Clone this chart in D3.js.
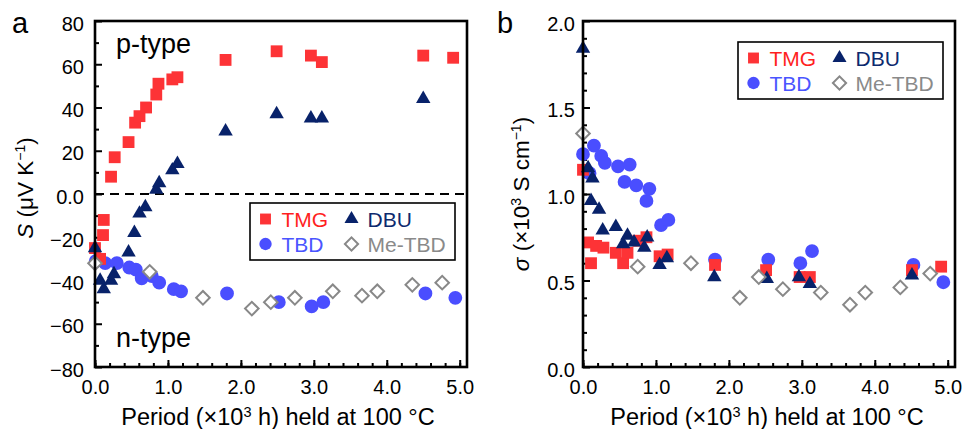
<!DOCTYPE html>
<html>
<head>
<meta charset="utf-8">
<script src="https://cdn.jsdelivr.net/npm/d3@7"></script>
<style>
  body { margin: 0; background: #fff; }
  svg { display: block; font-family: "Liberation Sans", Arial, Helvetica, sans-serif; }
</style>
</head>
<body>
<svg id="fig" width="964" height="429"></svg>
<script>
// ---- Panel a: Seebeck coefficient S (µV K^-1) vs. period held at 100 °C (×10^3 h)
const tmgTimeS = [0.00, 0.07, 0.11, 0.12, 0.22, 0.27, 0.46, 0.55, 0.61, 0.70, 0.84, 0.87, 1.06, 1.13, 1.79, 2.49, 2.96, 3.11, 4.50, 4.91];
const tmgS     = [-25, -30, -19, -12, 8, 17, 24, 33, 36, 40, 46, 51, 53, 54, 62, 66, 64, 61, 64, 63];

const dbuTimeS = [0.00, 0.07, 0.12, 0.22, 0.26, 0.46, 0.54, 0.61, 0.69, 0.84, 0.88, 1.06, 1.13, 1.79, 2.49, 2.96, 3.11, 4.50];
const dbuS     = [-25, -40, -44, -40, -37, -27, -18, -9, -6, 2, 5, 11, 14, 29, 37, 35, 35, 44];

const tbdTimeS = [0.01, 0.14, 0.30, 0.47, 0.56, 0.64, 0.78, 0.88, 1.08, 1.18, 1.81, 2.52, 2.97, 3.13, 4.53, 4.94];
const tbdS     = [-31, -32, -32, -34, -35, -39, -38, -41, -44, -45, -46, -50, -52, -50, -46, -48];

const meTbdTime = [0.00, 0.75, 1.48, 2.15, 2.41, 2.74, 3.26, 3.66, 3.87, 4.35, 4.76];
const meTbdS    = [-32, -36, -48, -53, -50, -48, -45, -47, -45, -42, -41];

// ---- Panel b: electrical conductivity sigma (×10^3 S cm^-1)
const tmgTimeSigma = [0.00, 0.07, 0.11, 0.18, 0.28, 0.45, 0.55, 0.61, 0.76, 0.87, 1.05, 1.16, 1.81, 2.51, 2.97, 3.11, 4.51, 4.91];
const tmgSigma     = [1.14, 0.72, 0.60, 0.70, 0.69, 0.66, 0.60, 0.66, 0.73, 0.75, 0.64, 0.65, 0.59, 0.56, 0.52, 0.52, 0.56, 0.58];

const dbuTimeSigma = [0.00, 0.07, 0.11, 0.13, 0.22, 0.27, 0.45, 0.55, 0.61, 0.70, 0.84, 0.88, 1.05, 1.15, 1.80, 2.52, 2.96, 3.11, 4.51];
const dbuSigma     = [1.84, 1.15, 0.96, 1.09, 0.91, 0.79, 0.81, 0.71, 0.76, 0.72, 0.69, 0.75, 0.59, 0.63, 0.52, 0.51, 0.52, 0.48, 0.53];

const tbdTimeSigma = [0.00, 0.09, 0.15, 0.25, 0.30, 0.48, 0.57, 0.64, 0.73, 0.87, 0.91, 1.07, 1.17, 1.81, 2.54, 2.98, 3.14, 4.53, 4.94];
const tbdSigma     = [1.23, 1.12, 1.28, 1.22, 1.18, 1.16, 1.07, 1.17, 1.05, 0.96, 1.03, 0.82, 0.85, 0.62, 0.62, 0.60, 0.67, 0.59, 0.49];

const meTbdSigma = [1.35, 0.58, 0.60, 0.40, 0.52, 0.45, 0.43, 0.36, 0.43, 0.46, 0.54];

// ---- Ticks
const xTickValues  = [0, 1, 2, 3, 4, 5];
const xTickLabels  = ["0.0", "1.0", "2.0", "3.0", "4.0", "5.0"];
const sTickValues  = [-80, -60, -40, -20, 0, 20, 40, 60, 80];
const sTickLabels  = ["\u221280", "\u221260", "\u221240", "\u221220", "0.0", "20", "40", "60", "80"];
const sigmaTickValues = [0, 0.5, 1.0, 1.5, 2.0];
const sigmaTickLabels = ["0.0", "0.5", "1.0", "1.5", "2.0"];

// ---- Series styling
const series = {
  TBD:    { symbol: d3.symbolCircle,   size: 150, fill: "#4a4eff", stroke: "none", text: "#4a55ff" },
  TMG:    { symbol: d3.symbolSquare,   size: 140, fill: "#fd3336", stroke: "none", text: "#ff1f1f" },
  DBU:    { symbol: d3.symbolTriangle, size: 90,  fill: "#08226a", stroke: "none", text: "#0d2a6e" },
  MeTBD:  { symbol: d3.symbolSquare,   size: 92,  fill: "#ffffff", stroke: "#888888", rotate: 45, text: "#8a8a8a" }
};

const svg = d3.select("#fig");
const plotTop = 21, plotBottom = 367;

function zip(xs, ys) { return xs.map((t, i) => [t, ys[i]]); }

function drawMarks(g, x, y, pts, st) {
  const sym = d3.symbol().type(st.symbol).size(st.size);
  g.append("g").selectAll("path").data(pts).join("path")
    .attr("d", sym)
    .attr("transform", d => `translate(${x(d[0])},${y(d[1])})` + (st.rotate ? ` rotate(${st.rotate})` : ""))
    .attr("fill", st.fill)
    .attr("stroke", st.stroke)
    .attr("stroke-width", st.stroke === "none" ? 0 : 2);
}

function drawLegend(g, left, topY) {
  const w = 205, h = 57;
  g.append("rect").attr("x", left).attr("y", topY).attr("width", w).attr("height", h)
    .attr("fill", "#fff").attr("stroke", "#000").attr("stroke-width", 1.6);
  const items = [
    { key: "TMG", label: "TMG", col: 0, row: 0 },
    { key: "DBU", label: "DBU", col: 1, row: 0 },
    { key: "TBD", label: "TBD", col: 0, row: 1 },
    { key: "MeTBD", label: "Me-TBD", col: 1, row: 1 }
  ];
  items.forEach(it => {
    const st = series[it.key];
    const mx = left + 15.5 + it.col * 86;
    const my = topY + 16 + it.row * 25;
    const scale = it.key === "TBD" ? 0.8 : (it.key === "TMG" ? 0.85 : 0.95);
    g.append("path")
      .attr("d", d3.symbol().type(st.symbol).size(st.size * scale)())
      .attr("transform", `translate(${mx},${my})` + (st.rotate ? ` rotate(${st.rotate})` : ""))
      .attr("fill", st.fill).attr("stroke", st.stroke)
      .attr("stroke-width", st.stroke === "none" ? 0 : 2);
    g.append("text").attr("x", mx + 16).attr("y", my + 7.5)
      .attr("font-size", 21).attr("fill", st.text).text(it.label);
  });
}

function drawPanel(opts) {
  const g = svg.append("g");
  const x = d3.scaleLinear().domain([0, 5.1]).range([opts.left, opts.right]);
  const y = d3.scaleLinear().domain(opts.yDomain).range([plotBottom, plotTop]);

  // minor ticks
  g.append("g").attr("transform", `translate(0,${plotBottom})`)
    .call(d3.axisBottom(x).tickValues(d3.range(0, 5.01, 0.2)).tickSize(-4).tickFormat(""))
    .call(a => a.select(".domain").remove())
    .call(a => a.selectAll("line").attr("stroke-width", 2));
  g.append("g").attr("transform", `translate(${opts.left},0)`)
    .call(d3.axisLeft(y).tickValues(opts.yMinor).tickSize(-4).tickFormat(""))
    .call(a => a.select(".domain").remove())
    .call(a => a.selectAll("line").attr("stroke-width", 2));

  // major ticks with labels
  g.append("g").attr("transform", `translate(0,${plotBottom})`)
    .call(d3.axisBottom(x).tickValues(xTickValues).tickSize(-7).tickPadding(13)
      .tickFormat((d, i) => xTickLabels[i]))
    .call(a => a.select(".domain").remove())
    .call(a => a.selectAll("line").attr("stroke-width", 2))
    .call(a => a.selectAll("text").attr("font-size", 20).attr("fill", "#000")
      .attr("font-family", "'Liberation Sans', Arial, sans-serif"));
  g.append("g").attr("transform", `translate(${opts.left},0)`)
    .call(d3.axisLeft(y).tickValues(opts.yTicks).tickSize(-7).tickPadding(opts.yPad)
      .tickFormat((d, i) => opts.yLabels[i]))
    .call(a => a.select(".domain").remove())
    .call(a => a.selectAll("line").attr("stroke-width", 2))
    .call(a => a.selectAll("text").attr("font-size", 20).attr("fill", "#000").attr("dy", "0.45em")
      .attr("font-family", "'Liberation Sans', Arial, sans-serif"));

  // reference line at zero
  if (opts.zeroLine) {
    g.append("line").attr("x1", opts.left).attr("x2", opts.right)
      .attr("y1", y(0)).attr("y2", y(0))
      .attr("stroke", "#000").attr("stroke-width", 2).attr("stroke-dasharray", "9,6");
  }

  // data
  drawMarks(g, x, y, opts.data.TBD, series.TBD);
  drawMarks(g, x, y, opts.data.TMG, series.TMG);
  drawMarks(g, x, y, opts.data.DBU, series.DBU);
  drawMarks(g, x, y, opts.data.MeTBD, series.MeTBD);

  // frame
  g.append("rect").attr("x", opts.left).attr("y", plotTop)
    .attr("width", opts.right - opts.left).attr("height", plotBottom - plotTop)
    .attr("fill", "none").attr("stroke", "#000").attr("stroke-width", 2.6);

  drawLegend(g, opts.legend[0], opts.legend[1]);

  // x-axis title
  const xt = g.append("text").attr("x", opts.titleX).attr("y", 425)
    .attr("text-anchor", "middle").attr("font-size", 23.5).attr("fill", "#000");
  xt.append("tspan").text("Period (\u00d710");
  xt.append("tspan").attr("font-size", 14.5).attr("dy", -8.5).text("3");
  xt.append("tspan").attr("dy", 8.5).text(" h) held at 100 \u00b0C");

  // panel letter
  g.append("text").attr("x", opts.letterX).attr("y", 33).attr("font-size", 29)
    .attr("fill", "#000").text(opts.letter);

  return { g, x, y };
}

// Panel a
const pa = drawPanel({
  left: 95, right: 467,
  yDomain: [-80, 80],
  yTicks: sTickValues, yLabels: sTickLabels, yPad: 11,
  yMinor: d3.range(-70, 80, 20),
  zeroLine: true,
  data: {
    TMG: zip(tmgTimeS, tmgS), DBU: zip(dbuTimeS, dbuS),
    TBD: zip(tbdTimeS, tbdS), MeTBD: zip(meTbdTime, meTbdS)
  },
  legend: [250, 203],
  titleX: 278, letter: "a", letterX: 12
});

pa.g.append("text").attr("x", 116).attr("y", 53).attr("font-size", 27).attr("fill", "#000").text("p-type");
pa.g.append("text").attr("x", 116).attr("y", 347).attr("font-size", 27).attr("fill", "#000").text("n-type");

const ya = pa.g.append("text").attr("transform", "translate(33,188) rotate(-90)")
  .attr("text-anchor", "middle").attr("font-size", 22.5).attr("fill", "#000");
ya.append("tspan").attr("font-style", "italic").text("S");
ya.append("tspan").text(" (\u03bcV K");
ya.append("tspan").attr("font-size", 14).attr("dy", -8).text("\u22121");
ya.append("tspan").attr("dy", 8).text(")");

// Panel b
const pb = drawPanel({
  left: 583, right: 955,
  yDomain: [0, 2],
  yTicks: sigmaTickValues, yLabels: sigmaTickLabels, yPad: 8,
  yMinor: d3.range(0.1, 2.0, 0.1),
  zeroLine: false,
  data: {
    TMG: zip(tmgTimeSigma, tmgSigma), DBU: zip(dbuTimeSigma, dbuSigma),
    TBD: zip(tbdTimeSigma, tbdSigma), MeTBD: zip(meTbdTime, meTbdSigma)
  },
  legend: [738, 42],
  titleX: 767, letter: "b", letterX: 497
});

const yb = pb.g.append("text").attr("transform", "translate(529,194) rotate(-90)")
  .attr("text-anchor", "middle").attr("font-size", 22.5).attr("fill", "#000");
yb.append("tspan").attr("font-style", "italic").text("\u03c3");
yb.append("tspan").text(" (\u00d710");
yb.append("tspan").attr("font-size", 14).attr("dy", -8).text("3");
yb.append("tspan").attr("dy", 8).text(" S cm");
yb.append("tspan").attr("font-size", 14).attr("dy", -8).text("\u22121");
yb.append("tspan").attr("dy", 8).text(")");
</script>
</body>
</html>
